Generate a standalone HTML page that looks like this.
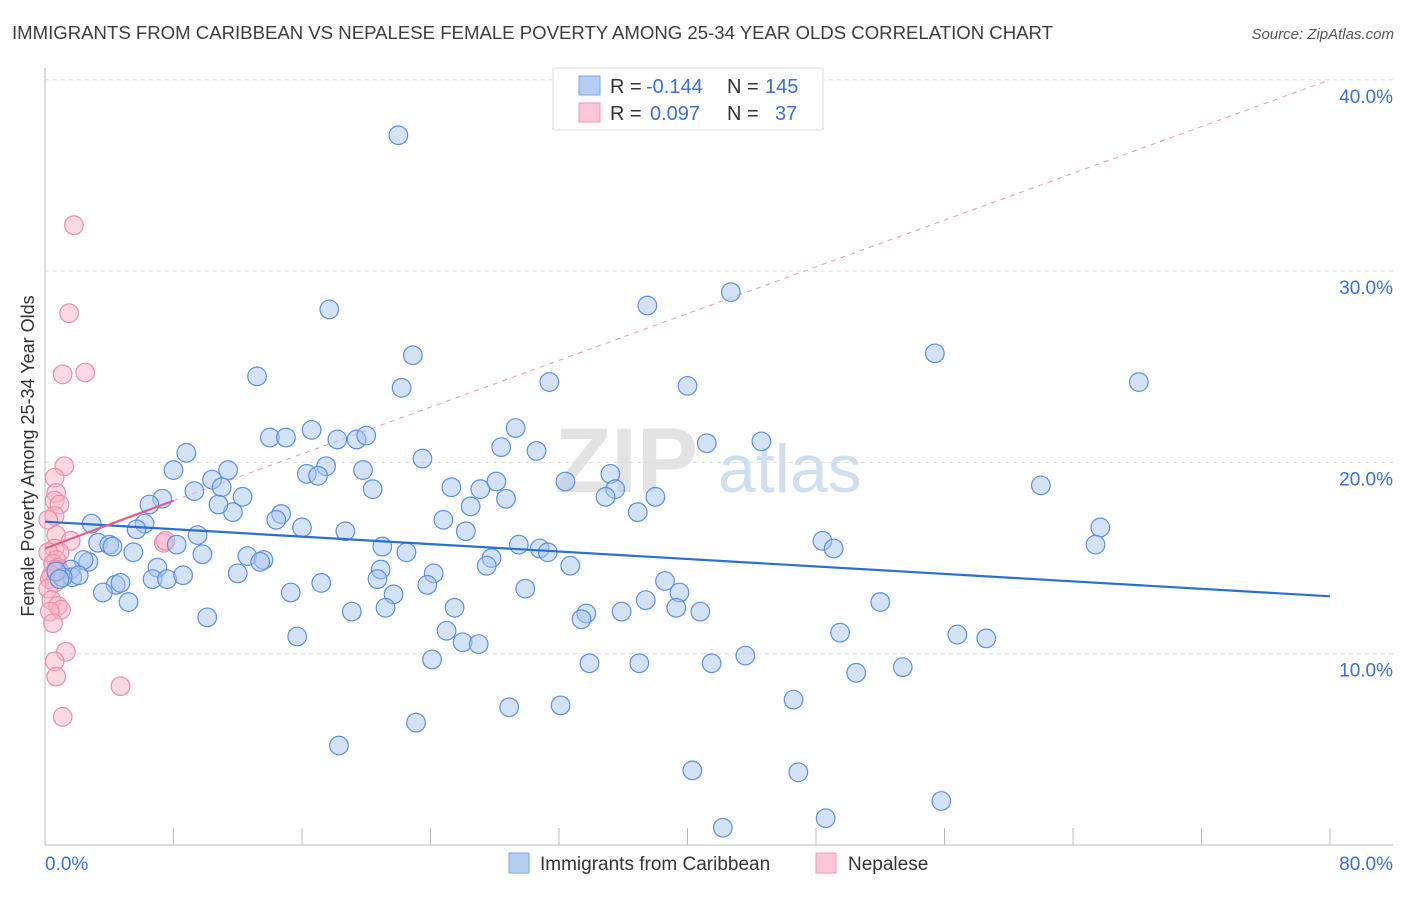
<!DOCTYPE html>
<html><head><meta charset="utf-8">
<style>
body{margin:0;background:#fff;font-family:"Liberation Sans",sans-serif;}
svg text{font-family:"Liberation Sans",sans-serif;}
</style></head>
<body>
<svg id="chart" width="1406" height="892" viewBox="0 0 1406 892" xmlns="http://www.w3.org/2000/svg">
<text x="12" y="39" font-size="18" fill="#3c3c3c" textLength="1041" lengthAdjust="spacingAndGlyphs">IMMIGRANTS FROM CARIBBEAN VS NEPALESE FEMALE POVERTY AMONG 25-34 YEAR OLDS CORRELATION CHART</text>
<text x="1394" y="39" font-size="15" fill="#555" text-anchor="end" font-style="italic">Source: ZipAtlas.com</text>
<g>
<text x="555" y="492" font-size="92" fill="#d8d8d8" font-family="Liberation Serif,serif" font-weight="bold" opacity="0.7">ZIP</text>
<text x="718" y="492" font-size="68" fill="#c5d6ee" opacity="0.8">atlas</text>
</g>
<g id="grid"></g>
<g id="axes"></g>
<g id="trend"></g>
<g id="pts"></g>
<text transform="translate(34,456) rotate(-90)" font-size="18" fill="#333" text-anchor="middle">Female Poverty Among 25-34 Year Olds</text>
<g>
<rect x="553" y="68" width="270" height="62" fill="#fff" stroke="#ddd"/>
<rect x="579" y="76" width="21" height="19" fill="#b5cff3" stroke="#7aa6e6"/>
<rect x="579" y="103" width="21" height="19" fill="#f8c6d5" stroke="#ee9ab4"/>
<text x="610" y="93" font-size="20" fill="#333">R = </text><text x="646" y="93" font-size="20" fill="#3a6fd0">-0.144</text>
<text x="727" y="93" font-size="20" fill="#333">N = </text><text x="765" y="93" font-size="20" fill="#3a6fd0">145</text>
<text x="610" y="120" font-size="20" fill="#333">R = </text><text x="650" y="120" font-size="20" fill="#3a6fd0">0.097</text>
<text x="727" y="120" font-size="20" fill="#333">N = </text><text x="775" y="120" font-size="20" fill="#3a6fd0">37</text>
</g>
<g>
<rect x="509" y="853" width="20" height="20" fill="#b5cff3" stroke="#7aa6e6"/>
<text x="540" y="870" font-size="19" fill="#333">Immigrants from Caribbean</text>
<rect x="816" y="853" width="20" height="20" fill="#f8c6d5" stroke="#ee9ab4"/>
<text x="848" y="870" font-size="19" fill="#333">Nepalese</text>
</g>
</svg>
<script>
const xTickLabels=["0.0%","80.0%"];
const yTicks=[10,20,30,40];
const blueX=[22.0,17.7,13.2,22.9,22.2,37.5,42.7,55.4,68.1,31.4,40.0,14.0,15.0,16.6,18.2,19.4,20.0,8.8,29.3,28.4,30.6,41.2,44.6,23.5,17.5,16.3,17.0,19.8,8.0,10.4,11.4,11.0,12.3,9.3,7.3,6.5,20.4,25.3,27.1,28.1,32.4,35.2,35.5,34.9,38.0,28.7,26.5,11.7,10.8,14.7,14.4,16.0,6.2,5.7,2.9,24.8,26.2,36.9,62.0,65.7,65.4,18.7,9.5,8.2,3.3,4.0,4.2,5.5,9.8,12.6,13.6,13.4,22.5,29.5,30.8,31.3,27.8,27.5,48.4,49.1,21.0,32.7,7.0,2.7,2.4,1.6,1.7,2.1,1.1,0.7,0.9,4.4,4.7,6.7,7.6,8.6,12.0,20.9,20.7,24.2,23.8,17.2,3.6,5.2,15.3,21.7,29.9,38.6,39.5,37.4,39.3,40.8,25.5,19.1,21.2,33.7,33.4,35.9,52.0,10.1,15.7,25.0,26.0,27.0,49.5,56.8,58.6,24.1,33.9,37.0,41.5,43.6,50.5,53.4,28.9,32.1,46.6,23.1,18.3,40.3,46.9,55.8,48.6,42.2];
const blueY=[37.1,28.0,24.5,25.6,23.9,28.2,28.9,25.7,24.2,24.2,24.0,21.3,21.3,21.7,21.2,21.2,21.4,20.5,21.8,20.8,20.6,21.0,21.1,20.2,19.8,19.4,19.3,19.6,19.6,19.1,19.6,18.7,18.2,18.5,18.1,17.8,18.6,18.7,18.6,19.0,19.0,19.4,18.6,18.2,18.2,18.1,17.7,17.4,17.8,17.3,17.0,16.6,16.8,16.5,16.8,17.0,16.4,17.4,18.8,16.6,15.7,16.4,16.2,15.7,15.8,15.7,15.6,15.3,15.2,15.1,14.9,14.8,15.3,15.7,15.5,15.3,15.0,14.6,15.9,15.5,15.6,14.6,14.5,14.8,14.9,14.4,14.0,14.1,14.0,14.3,13.9,13.6,13.7,13.9,13.9,14.1,14.2,14.4,13.9,14.2,13.6,13.7,13.2,12.7,13.2,13.1,13.4,13.8,13.2,12.8,12.4,12.2,12.4,12.2,12.4,12.1,11.8,12.2,12.7,11.9,10.9,11.2,10.6,10.5,11.1,11.0,10.8,9.7,9.5,9.5,9.5,9.9,9.0,9.3,7.2,7.3,7.6,6.4,5.2,3.9,3.8,2.3,1.4,0.9];
const pinkX=[1.8,1.5,1.1,2.5,1.2,0.6,0.7,0.6,0.9,0.6,0.2,0.7,1.6,0.6,0.9,0.2,0.7,0.5,0.8,0.7,0.9,0.4,0.3,0.6,0.2,0.4,0.8,1.0,0.3,0.5,1.3,0.6,0.7,4.7,1.1,7.4,7.5];
const pinkY=[32.4,27.8,24.6,24.7,19.8,19.2,18.4,18.0,17.8,17.2,17.0,16.2,15.9,15.5,15.3,15.3,14.9,14.7,14.5,14.4,14.3,14.1,13.9,13.7,13.4,12.8,12.5,12.3,12.2,11.6,10.1,9.6,8.8,8.3,6.7,15.8,15.9];
const blueTrend=[16.9,13.0];
const pinkTrend=[15.5,18.0,40.0];

const NS="http://www.w3.org/2000/svg";
const X0=45,X1=1330,Y0=845,PXY=19.13;
const sx=v=>X0+(v/80)*(X1-X0);
const sy=v=>Y0-v*PXY;
function mk(tag,attrs,parent){const e=document.createElementNS(NS,tag);for(const k in attrs)e.setAttribute(k,attrs[k]);parent.appendChild(e);return e;}
const grid=document.getElementById('grid'),axes=document.getElementById('axes'),trend=document.getElementById('trend'),pts=document.getElementById('pts');
yTicks.forEach(t=>{
 const l=mk('line',{x1:X0,x2:1393,y1:sy(t),y2:sy(t),stroke:'#ddd','stroke-dasharray':'4,4'},grid);
 
 
 const tx=mk('text',{x:1393,y:sy(t)+23,'font-size':19,fill:'#3a6fd0','text-anchor':'end'},axes);
 tx.textContent=t.toFixed(1)+'%';
 
 
});
const al=mk('line',{x1:X0,x2:X0,y1:68,y2:Y0,stroke:'#bbb'},axes);


const bl=mk('line',{x1:X0,x2:1393,y1:Y0,y2:Y0,stroke:'#bbb'},axes);


for(let i=1;i<=10;i++){
 const t=mk('line',{x1:sx(i*8),x2:sx(i*8),y1:828,y2:Y0,stroke:'#bbb'},axes);
 
 
}
const xl0=mk('text',{x:45,y:870,'font-size':19,fill:'#3a6fd0'},axes);xl0.textContent=xTickLabels[0];


const xl1=mk('text',{x:1393,y:870,'font-size':19,fill:'#3a6fd0','text-anchor':'end'},axes);xl1.textContent=xTickLabels[1];



function dot(x,y,fill,stroke,name){
 const c=mk('circle',{cx:sx(x),cy:sy(y),r:9.3,fill:fill,'fill-opacity':0.5,stroke:stroke,'stroke-width':1.2},pts);
 
 
}
pinkX.forEach((x,i)=>dot(x,pinkY[i],'#f6b3c7','#ec8dab','nepalese-point'));
blueX.forEach((x,i)=>dot(x,blueY[i],'#a9c6ee','#5b8fe0','caribbean-point'));

const pd=mk('line',{x1:sx(8),y1:sy(pinkTrend[1]),x2:sx(80),y2:sy(pinkTrend[2]),stroke:'#e89ab3','stroke-width':1,'stroke-dasharray':'5,5'},trend);


const bt=mk('line',{x1:sx(0),y1:sy(blueTrend[0]),x2:sx(80),y2:sy(blueTrend[1]),stroke:'#2a6fd4','stroke-width':2.2},pts);


const ps=mk('line',{x1:sx(0),y1:sy(pinkTrend[0]),x2:sx(8),y2:sy(pinkTrend[1]),stroke:'#e0608a','stroke-width':2.2},pts);


</script>
</body></html>
